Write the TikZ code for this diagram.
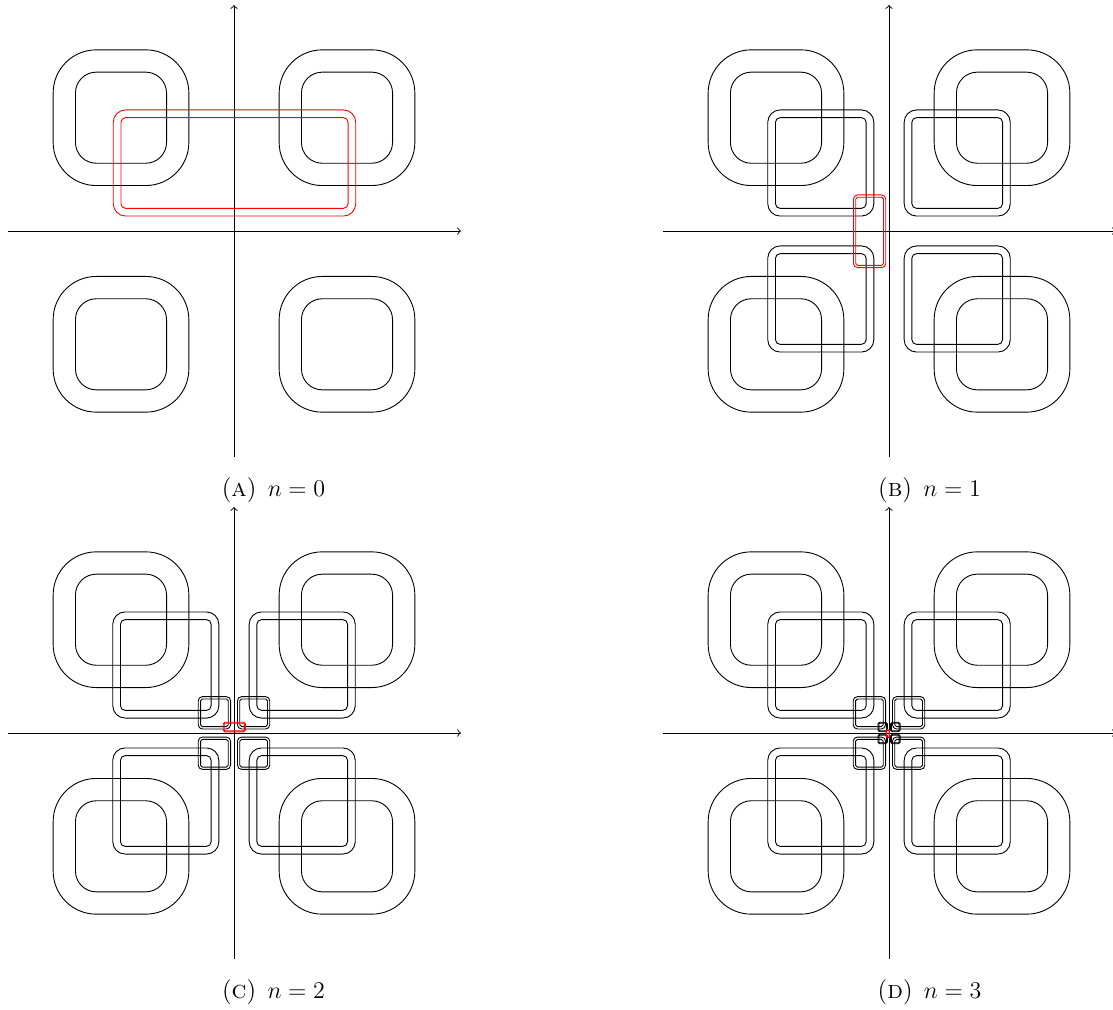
\documentclass[tikz,border=0pt]{standalone}
\usepackage{tikz}
\newcommand\ringsq[7]{% cx cy hw hh r g style
  \pgfmathsetmacro\rsax{#1-#3-#6/2}\pgfmathsetmacro\rsay{#2-#4-#6/2}%
  \pgfmathsetmacro\rsbx{#1+#3+#6/2}\pgfmathsetmacro\rsby{#2+#4+#6/2}%
  \pgfmathsetmacro\rsro{(#5+#6/2)*0.5}%
  \draw[#7, rounded corners=\rsro pt] (\rsax,\rsay) rectangle (\rsbx,\rsby);
  \pgfmathsetmacro\rsax{#1-#3+#6/2}\pgfmathsetmacro\rsay{#2-#4+#6/2}%
  \pgfmathsetmacro\rsbx{#1+#3-#6/2}\pgfmathsetmacro\rsby{#2+#4-#6/2}%
  \pgfmathsetmacro\rsri{max(#5-#6/2,0.02)*0.5}%
  \draw[#7, rounded corners=\rsri pt] (\rsax,\rsay) rectangle (\rsbx,\rsby);
}
\newcommand\levelzero{%
  \foreach \sx in {-1,1}{\foreach \sy in {-1,1}{%
    \ringsq{\sx*113}{\sy*113.3}{56.7}{56.7}{32}{22.3}{ring}}}}
\newcommand\levelone{%
  \foreach \sx in {-1,1}{\foreach \sy in {-1,1}{%
    \ringsq{\sx*68.2}{\sy*68}{49.2}{49.2}{8.5}{7.7}{ring}}}}
\newcommand\leveltwo{%
  \foreach \sx in {-1,1}{\foreach \sy in {-1,1}{%
    \ringsq{\sx*19.6}{\sy*20.2}{15}{15}{3}{2.3}{ring}}}}
\newcommand\levelthree{%
  \foreach \sx in {-1,1}{\foreach \sy in {-1,1}{%
    \ringsq{\sx*6.3}{\sy*6}{4.3}{4.3}{1.2}{0.9}{ring}}}}
\newcommand\panelaxes{%
  \coordinate (xl) at (-226,0); \coordinate (xr) at (227,0);
  \coordinate (yb) at (0,-226); \coordinate (yt) at (0,226);
  \draw[axis] (xl) -- (xr);
  \draw[axis] (yb) -- (yt);
}
\tikzset{
  ring/.style={draw=black, line width=0.45pt},
  redring/.style={draw=red, line width=0.45pt},
  axis/.style={draw=black, line width=0.45pt, ->},
  capt/.style={anchor=base, inner sep=0pt, font=\fontsize{12.6}{15}\selectfont}
}
\begin{document}
\begin{tikzpicture}[x=0.5pt,y=-0.5pt]
\useasboundingbox (0,0) rectangle (1113,1010);
% Panel A
\begin{scope}[shift={(234,231)}, yscale=-1]
  \panelaxes
  \levelzero
  \ringsq{0.5}{68}{117.4}{49.2}{8.5}{7.7}{redring}
\end{scope}
% Panel B
\begin{scope}[shift={(889,231)}, yscale=-1]
  \panelaxes
  \levelzero
  \levelone
  \ringsq{-19.4}{-0.3}{15}{35.2}{3}{2.3}{redring}
\end{scope}
% Panel C
\begin{scope}[shift={(234,733)}, yscale=-1]
  \panelaxes
  \levelzero
  \levelone
  \leveltwo
  \ringsq{0.3}{6}{10.6}{4.3}{1.2}{1.0}{redring}
\end{scope}
% Panel D
\begin{scope}[shift={(889,733)}, yscale=-1]
  \panelaxes
  \levelzero
  \levelone
  \leveltwo
  \levelthree
  \ringsq{-1.2}{-0.6}{1.4}{3.6}{0.5}{0.5}{redring}
\end{scope}
\node[capt] (ca) at (273.5,496) {(\textsc{a})\hspace{0.45em}$n=0$};
\node[capt] (cb) at (929.5,496) {(\textsc{b})\hspace{0.45em}$n=1$};
\node[capt] (cc) at (273.5,998) {(\textsc{c})\hspace{0.45em}$n=2$};
\node[capt] (cd) at (929.5,998) {(\textsc{d})\hspace{0.45em}$n=3$};
\end{tikzpicture}
\end{document}
